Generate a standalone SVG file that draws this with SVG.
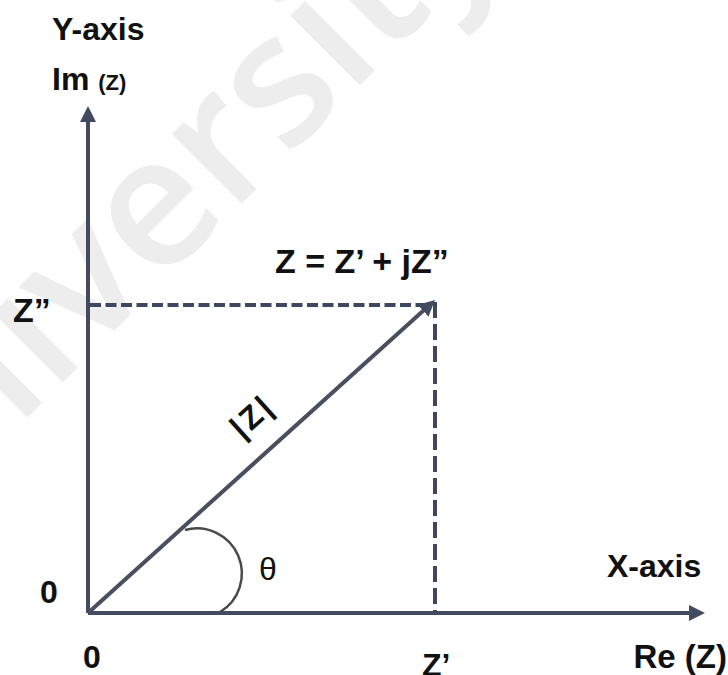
<svg xmlns="http://www.w3.org/2000/svg" width="728" height="675" viewBox="0 0 728 675">
  <style>
    .lbl { font-family: "Liberation Sans", Arial, sans-serif; font-weight: bold; fill: #111111; }
    .axis { stroke: #434b60; stroke-width: 4; fill: none; }
    .vec { stroke: #4a4e5e; stroke-width: 4; fill: none; }
    .dashH { stroke: #3f4660; stroke-width: 4; fill: none; stroke-dasharray: 11 4.5; }
    .dashV { stroke: #3f4660; stroke-width: 4; fill: none; stroke-dasharray: 16 6; }
    .arc { stroke: #4a4a4a; stroke-width: 2.5; fill: none; }
  </style>
  <defs>
    <marker id="head" markerUnits="userSpaceOnUse" markerWidth="16" markerHeight="16" refX="2" refY="8" orient="auto" viewBox="0 0 16 16">
      <path d="M0,0 L16,8 L0,16 z" fill="#434b60"/>
    </marker>
  </defs>
  <rect width="728" height="675" fill="#ffffff"/>
  <text id="watermark" transform="translate(-125,570) rotate(-45)" font-family="Open Sans, sans-serif" font-weight="600" font-size="182" fill="#ededed">University</text>

  <g id="connectors">
    <line id="y-axis" class="axis" x1="88" y1="613" x2="88" y2="120" marker-end="url(#head)"/>
    <line id="x-axis" class="axis" x1="88" y1="613" x2="691" y2="613" marker-end="url(#head)"/>
    <line id="dash-h" class="dashH" x1="90" y1="305" x2="430" y2="305"/>
    <line id="dash-v" class="dashV" x1="435" y1="302" x2="435" y2="613"/>
    <line id="vector" class="vec" x1="88" y1="613" x2="424.6" y2="309.4" marker-end="url(#head)"/>
    <path id="angle-arc" class="arc" d="M185,530 A45,45 0 0 1 220,612"/>
  </g>

  <g id="label-yaxis"><text class="lbl" x="52" y="40" font-size="32">Y-axis</text></g>
  <g id="label-im"><text class="lbl" x="52" y="90" font-size="32">Im <tspan font-size="22">(Z)</tspan></text></g>
  <g id="label-z"><text class="lbl" x="275" y="273" font-size="34">Z = Z’ + jZ”</text></g>
  <g id="label-zpp"><text class="lbl" x="13" y="322" font-size="34">Z”</text></g>
  <g id="label-mod"><text class="lbl" transform="translate(252,416) rotate(-42)" x="0" y="11" font-size="32" text-anchor="middle" letter-spacing="3">|Z|</text></g>
  <g id="label-theta"><text x="259" y="580" font-family="Liberation Sans, Arial, sans-serif" font-size="32" fill="#111111">θ</text></g>
  <g id="label-0-left"><text class="lbl" x="40" y="603" font-size="32">0</text></g>
  <g id="label-xaxis"><text class="lbl" x="607" y="577" font-size="32">X-axis</text></g>
  <g id="label-0-bottom"><text class="lbl" x="83" y="668" font-size="32">0</text></g>
  <g id="label-zp"><text class="lbl" x="422" y="676" font-size="32">Z’</text></g>
  <g id="label-re"><text class="lbl" x="727" y="668" font-size="33" text-anchor="end">Re (Z)</text></g>
</svg>
